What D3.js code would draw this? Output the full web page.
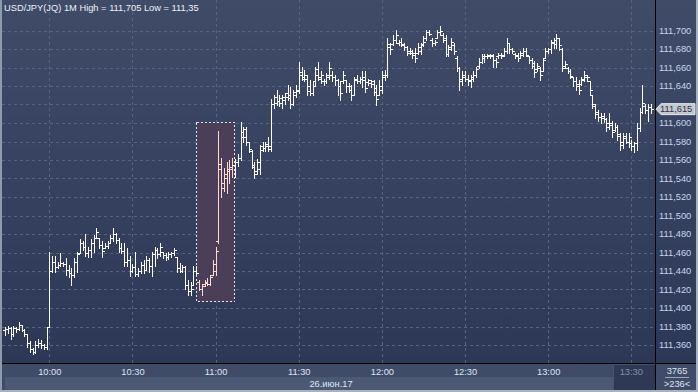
<!DOCTYPE html>
<html lang="ru">
<head>
<meta charset="UTF-8" />
<title>USD/JPY 1M</title>
<script src="https://d3js.org/d3.v7.min.js"></script>
<style>
  body { margin: 0; background: #2e3a56; }
  svg text { font-family: "Liberation Sans", Arial, sans-serif; font-size: 9.3px; }
  .bar { shape-rendering: crispEdges; }
</style>
</head>
<body>
<svg id="chart" width="698" height="392"></svg>
<script>
// ---- data (1 minute bars from 09:44) ----
const title = "USD/JPY(JQ) 1M High = 111,705 Low = 111,35";
const day = "2017-06-26";
const firstBar = "09:44";
const dateLabel = "26.июн.17";
const timeTicks = ["10:00", "10:30", "11:00", "11:30", "12:00", "12:30", "13:00", "13:30"];
const priceTicks = [111.36, 111.38, 111.40, 111.42, 111.44, 111.46, 111.48, 111.50, 111.52,
  111.54, 111.56, 111.58, 111.60, 111.62, 111.64, 111.66, 111.68, 111.70];
const lastPrice = 111.615;
const footerTop = "3765";
const footerBottom = ">236<";
// highlighted block (pink bars inside a dashed box)
const highlight = { from: "10:53", to: "11:06", top: 111.601, bottom: 111.408 };

const opens = [
  111.376,111.377,111.378,111.372,111.378,111.377,111.382,111.376,111.372,111.362,111.356,111.352,111.360,111.362,111.360,111.358,
  111.380,111.440,111.450,111.444,111.447,111.449,111.448,111.441,111.438,111.436,111.450,111.459,111.470,111.466,111.460,111.463,
  111.470,111.476,111.476,111.468,111.465,111.467,111.470,111.476,111.480,111.473,111.465,111.462,111.450,111.452,111.440,111.444,
  111.437,111.440,111.446,111.441,111.452,111.445,111.458,111.463,111.458,111.461,111.457,111.455,111.458,111.459,111.455,111.443,
  111.440,111.444,111.425,111.418,111.425,111.440,111.428,111.421,111.426,111.427,111.426,111.436,111.440,111.472,111.556,111.535,
  111.540,111.548,111.550,111.555,111.558,111.562,111.590,111.585,111.579,111.570,111.552,111.548,111.550,111.575,111.573,111.575,
  111.575,111.620,111.628,111.624,111.622,111.625,111.632,111.630,111.620,111.630,111.635,111.655,111.650,111.648,111.640,111.632,
  111.645,111.652,111.650,111.645,111.645,111.652,111.652,111.650,111.646,111.640,111.645,111.646,111.640,111.640,111.630,111.648,
  111.645,111.648,111.650,111.644,111.643,111.645,111.638,111.630,111.636,111.650,111.652,111.682,111.685,111.690,111.687,111.688,
  111.685,111.682,111.678,111.676,111.676,111.676,111.678,111.685,111.692,111.698,111.690,111.686,111.692,111.698,111.695,111.692,
  111.675,111.682,111.684,111.670,111.660,111.648,111.650,111.648,111.646,111.648,111.652,111.662,111.666,111.670,111.672,111.672,
  111.672,111.668,111.672,111.674,111.674,111.678,111.686,111.680,111.675,111.674,111.670,111.674,111.678,111.672,111.668,111.665,
  111.658,111.660,111.656,111.670,111.678,111.680,111.688,111.685,111.692,111.680,111.662,111.660,111.656,111.650,111.645,111.642,
  111.642,111.648,111.650,111.645,111.630,111.618,111.612,111.606,111.608,111.604,111.600,111.600,111.592,111.596,111.588,111.580,
  111.584,111.580,111.578,111.575,111.578,111.595,111.612,111.618,111.614,111.617
];
const highs = [
  111.380,111.381,111.379,111.381,111.380,111.385,111.382,111.377,111.372,111.364,111.357,111.364,111.366,111.365,111.361,111.380,
  111.461,111.456,111.456,111.450,111.460,111.450,111.454,111.447,111.443,111.454,111.461,111.475,111.472,111.480,111.466,111.475,
  111.479,111.486,111.476,111.472,111.470,111.472,111.479,111.486,111.481,111.476,111.470,111.470,111.465,111.456,111.448,111.461,
  111.443,111.450,111.452,111.456,111.454,111.461,111.466,111.465,111.470,111.461,111.460,111.461,111.461,111.465,111.455,111.449,
  111.446,111.445,111.430,111.428,111.445,111.445,111.430,111.426,111.430,111.432,111.436,111.452,111.466,111.591,111.562,111.551,
  111.558,111.560,111.562,111.561,111.566,111.601,111.596,111.596,111.580,111.571,111.558,111.561,111.576,111.580,111.580,111.585,
  111.626,111.630,111.636,111.630,111.630,111.632,111.641,111.639,111.636,111.641,111.666,111.661,111.657,111.652,111.646,111.645,
  111.661,111.666,111.656,111.648,111.654,111.666,111.656,111.652,111.648,111.645,111.656,111.646,111.643,111.641,111.650,111.652,
  111.650,111.656,111.656,111.648,111.646,111.646,111.641,111.646,111.656,111.657,111.692,111.686,111.695,111.701,111.690,111.692,
  111.686,111.683,111.681,111.679,111.681,111.686,111.686,111.694,111.701,111.701,111.692,111.690,111.701,111.705,111.697,111.695,
  111.684,111.692,111.686,111.672,111.661,111.656,111.656,111.652,111.652,111.656,111.661,111.670,111.675,111.675,111.675,111.675,
  111.675,111.670,111.676,111.676,111.681,111.692,111.687,111.681,111.676,111.676,111.678,111.681,111.681,111.672,111.670,111.667,
  111.665,111.661,111.670,111.681,111.681,111.690,111.692,111.696,111.692,111.681,111.667,111.661,111.658,111.650,111.650,111.647,
  111.650,111.656,111.652,111.645,111.630,111.620,111.614,111.611,111.611,111.605,111.611,111.602,111.600,111.598,111.589,111.589,
  111.589,111.589,111.582,111.580,111.600,111.616,111.641,111.620,111.620,111.620
];
const lows = [
  111.371,111.373,111.366,111.370,111.374,111.376,111.375,111.370,111.358,111.352,111.350,111.351,111.358,111.357,111.356,111.356,
  111.379,111.439,111.439,111.443,111.445,111.445,111.436,111.434,111.425,111.434,111.439,111.459,111.463,111.456,111.455,111.455,
  111.461,111.476,111.465,111.455,111.465,111.465,111.470,111.472,111.470,111.461,111.459,111.445,111.445,111.435,111.439,111.435,
  111.435,111.438,111.438,111.441,111.439,111.435,111.445,111.454,111.456,111.454,111.452,111.453,111.455,111.457,111.439,111.439,
  111.439,111.421,111.414,111.414,111.425,111.437,111.419,111.414,111.424,111.425,111.425,111.436,111.436,111.470,111.520,111.526,
  111.524,111.535,111.542,111.542,111.554,111.560,111.580,111.576,111.569,111.551,111.540,111.545,111.545,111.570,111.570,111.570,
  111.570,111.616,111.619,111.618,111.616,111.621,111.625,111.616,111.619,111.628,111.632,111.646,111.645,111.630,111.630,111.630,
  111.641,111.646,111.643,111.641,111.643,111.648,111.645,111.641,111.630,111.625,111.643,111.634,111.634,111.625,111.630,111.643,
  111.643,111.639,111.634,111.641,111.639,111.630,111.619,111.630,111.632,111.646,111.650,111.675,111.684,111.686,111.684,111.683,
  111.679,111.674,111.675,111.670,111.666,111.675,111.675,111.683,111.690,111.695,111.683,111.684,111.692,111.695,111.688,111.672,
  111.672,111.679,111.675,111.656,111.636,111.641,111.645,111.641,111.639,111.645,111.650,111.659,111.665,111.666,111.670,111.670,
  111.661,111.661,111.670,111.670,111.672,111.676,111.676,111.676,111.670,111.667,111.670,111.672,111.672,111.665,111.660,111.650,
  111.656,111.647,111.656,111.670,111.676,111.676,111.681,111.681,111.679,111.656,111.660,111.654,111.649,111.640,111.636,111.631,
  111.641,111.645,111.645,111.631,111.616,111.605,111.602,111.600,111.601,111.591,111.594,111.585,111.591,111.582,111.571,111.573,
  111.578,111.574,111.571,111.569,111.571,111.591,111.611,111.611,111.602,111.611
];
const closes = [
  111.377,111.378,111.372,111.378,111.377,111.382,111.376,111.372,111.362,111.356,111.352,111.360,111.362,111.360,111.358,111.380,
  111.440,111.450,111.444,111.447,111.449,111.448,111.441,111.438,111.436,111.450,111.458,111.470,111.466,111.460,111.463,111.470,
  111.476,111.482,111.468,111.462,111.467,111.470,111.476,111.480,111.473,111.465,111.462,111.450,111.452,111.440,111.444,111.437,
  111.440,111.446,111.441,111.452,111.445,111.458,111.463,111.458,111.466,111.457,111.455,111.458,111.459,111.463,111.443,111.440,
  111.444,111.425,111.418,111.420,111.440,111.438,111.421,111.424,111.428,111.426,111.434,111.448,111.462,111.550,111.530,111.545,
  111.550,111.552,111.555,111.558,111.562,111.585,111.593,111.579,111.572,111.555,111.545,111.558,111.571,111.573,111.577,111.572,
  111.620,111.622,111.624,111.627,111.628,111.628,111.627,111.620,111.633,111.636,111.652,111.648,111.652,111.635,111.632,111.640,
  111.658,111.648,111.652,111.645,111.650,111.660,111.650,111.646,111.640,111.632,111.652,111.640,111.636,111.630,111.646,111.645,
  111.648,111.646,111.638,111.646,111.642,111.634,111.626,111.640,111.652,111.652,111.685,111.680,111.690,111.695,111.688,111.684,
  111.682,111.676,111.678,111.673,111.670,111.682,111.684,111.688,111.698,111.696,111.686,111.688,111.698,111.700,111.690,111.675,
  111.680,111.688,111.678,111.660,111.645,111.652,111.648,111.645,111.650,111.652,111.658,111.666,111.672,111.672,111.674,111.673,
  111.668,111.666,111.674,111.672,111.678,111.686,111.680,111.678,111.672,111.670,111.676,111.678,111.674,111.668,111.662,111.655,
  111.662,111.652,111.668,111.678,111.680,111.686,111.690,111.692,111.684,111.660,111.664,111.656,111.651,111.645,111.640,111.636,
  111.646,111.652,111.650,111.636,111.620,111.610,111.606,111.605,111.604,111.596,111.598,111.590,111.596,111.586,111.576,111.586,
  111.580,111.585,111.575,111.578,111.595,111.612,111.622,111.614,111.617,111.615
];

// ---- layout ----
const W = 698, H = 392;
const plot = { left: 2, right: 655, top: 0, bottom: 363 };
const parse = d3.timeParse("%Y-%m-%d %H:%M");
const at = (hm) => parse(`${day} ${hm}`);
const fmtPrice = (v) => d3.format(".3f")(v).replace(".", ",");

const x = d3.scaleTime().domain([at("10:00"), at("13:30")]).range([49.3, 631.3]);
const y = d3.scaleLinear().domain([111.36, 111.70]).range([345, 30.5]);

const t0 = at(firstBar);
const bars = opens.map((o, i) => ({
  t: d3.timeMinute.offset(t0, i), o, h: highs[i], l: lows[i], c: closes[i]
}));

const svg = d3.select("#chart");
const defs = svg.append("defs");

const grad = defs.append("linearGradient").attr("id", "bg")
  .attr("x1", 0).attr("y1", 0).attr("x2", 0).attr("y2", 1);
grad.append("stop").attr("offset", "0%").attr("stop-color", "#3f4b67");
grad.append("stop").attr("offset", "100%").attr("stop-color", "#2c3856");

defs.append("clipPath").attr("id", "clip").append("rect")
  .attr("x", plot.left).attr("y", plot.top)
  .attr("width", plot.right - plot.left).attr("height", plot.bottom - plot.top);

// backgrounds
svg.append("rect").attr("width", W).attr("height", plot.bottom).attr("fill", "url(#bg)");
svg.append("rect").attr("x", 0).attr("y", plot.bottom).attr("width", W).attr("height", H - plot.bottom)
  .attr("fill", "#3f4b67");
svg.append("rect").attr("x", 5).attr("y", 377).attr("width", 608).attr("height", 13).attr("fill", "#4c5974");

// grid
const grid = svg.append("g").attr("stroke", "#56627e").attr("stroke-dasharray", "3,3")
  .attr("shape-rendering", "crispEdges");
grid.selectAll(".hg").data(priceTicks).join("line")
  .attr("x1", plot.left).attr("x2", plot.right)
  .attr("y1", (d) => Math.round(y(d)) + 0.5).attr("y2", (d) => Math.round(y(d)) + 0.5);
grid.selectAll(".vg").data(timeTicks).join("line")
  .attr("y1", plot.top).attr("y2", plot.bottom)
  .attr("x1", (d) => Math.round(x(at(d))) + 0.5).attr("x2", (d) => Math.round(x(at(d))) + 0.5);

// highlighted block
const hx0 = x(at(highlight.from)), hx1 = x(at(highlight.to)) + 2;
svg.append("rect")
  .attr("x", Math.round(hx0) + 0.5).attr("y", Math.round(y(highlight.top)) + 0.5)
  .attr("width", Math.round(hx1 - hx0))
  .attr("height", Math.round(y(highlight.bottom) - y(highlight.top)))
  .attr("fill", "#4b3e58").attr("stroke", "#e6e2ea").attr("stroke-dasharray", "2,2")
  .attr("shape-rendering", "crispEdges");

// OHLC bars
const inBlock = (d) => d.t > at(highlight.from) && d.t <= at(highlight.to);
const g = svg.append("g").attr("clip-path", "url(#clip)");
const bar = g.selectAll(".bar").data(bars).join("g").attr("class", "bar")
  .attr("fill", (d) => (inBlock(d) ? "#ffd9d2" : "#ffffff"));
const cx = (d) => Math.round(x(d.t));
bar.append("rect").attr("x", cx).attr("width", 1)
  .attr("y", (d) => Math.round(y(d.h)))
  .attr("height", (d) => Math.round(y(d.l)) - Math.round(y(d.h)) + 1);
bar.append("rect").attr("x", (d) => cx(d) - 2).attr("width", 2).attr("height", 1)
  .attr("y", (d) => Math.round(y(d.o)));
bar.append("rect").attr("x", (d) => cx(d) + 1).attr("width", 2).attr("height", 1)
  .attr("y", (d) => Math.round(y(d.c)));

// axes (the label hidden under the last-price marker is skipped)
const visibleTicks = priceTicks.filter((v) => Math.abs(y(v) - y(lastPrice)) > 7);
const yAxis = svg.append("g").attr("transform", `translate(${plot.right},0)`)
  .call(d3.axisRight(y).tickValues(visibleTicks).tickSize(0).tickPadding(4).tickFormat(fmtPrice));
yAxis.select(".domain").remove();
yAxis.selectAll("text").attr("fill", "#c9d5ee").style("font-size", "9.3px")
  .style("font-family", "'Liberation Sans', Arial, sans-serif");

const xAxis = svg.append("g").attr("transform", `translate(0,${plot.bottom})`)
  .call(d3.axisBottom(x).tickValues(timeTicks.slice(0, -1).map(at)).tickSize(0).tickPadding(5)
    .tickFormat(d3.timeFormat("%H:%M")));
xAxis.select(".domain").remove();
xAxis.selectAll("text").attr("fill", "#dfe6f2").style("font-size", "9.3px")
  .style("font-family", "'Liberation Sans', Arial, sans-serif");

// last time label box
svg.append("rect").attr("x", 613).attr("y", 364).attr("width", 42).attr("height", 26)
  .attr("fill", "#2e3a55").attr("stroke", "#46536e").attr("shape-rendering", "crispEdges");
svg.append("text").attr("x", x(at(timeTicks[timeTicks.length - 1]))).attr("y", 375)
  .attr("text-anchor", "middle").attr("fill", "#838ea4").text(timeTicks[timeTicks.length - 1]);

svg.append("text").attr("x", 331).attr("y", 387).attr("text-anchor", "middle")
  .attr("fill", "#dfe6f2").text(dateLabel);

// footer box
svg.append("text").attr("x", 677).attr("y", 374).attr("text-anchor", "middle")
  .attr("fill", "#dfe6f2").text(footerTop);
svg.append("line").attr("x1", 665).attr("x2", 689).attr("y1", 377.5).attr("y2", 377.5)
  .attr("stroke", "#9aa5b8");
svg.append("text").attr("x", 677).attr("y", 387).attr("text-anchor", "middle")
  .attr("fill", "#dfe6f2").text(footerBottom);

// separator lines and frame
svg.append("line").attr("x1", plot.right + 0.5).attr("x2", plot.right + 0.5).attr("y1", 0).attr("y2", H)
  .attr("stroke", "#000");
svg.append("line").attr("x1", 0).attr("x2", W).attr("y1", plot.bottom + 0.5).attr("y2", plot.bottom + 0.5)
  .attr("stroke", "#000");
svg.append("rect").attr("x", 0).attr("y", 0).attr("width", 2).attr("height", H).attr("fill", "#8e9aae");
svg.append("rect").attr("x", 0).attr("y", 390).attr("width", W).attr("height", 2).attr("fill", "#a9b1bf");
svg.append("rect").attr("x", 696).attr("y", 0).attr("width", 2).attr("height", H).attr("fill", "#a9b1bf");

// last price marker
const ly = y(lastPrice);
svg.append("path")
  .attr("d", `M${plot.right + 1},${ly} L${plot.right + 6},${ly - 5.5} L695,${ly - 5.5} L695,${ly + 5.5} L${plot.right + 6},${ly + 5.5} Z`)
  .attr("fill", "#c3c7cf").attr("stroke", "#e2e4e8");
svg.append("text").attr("x", plot.right + 5).attr("y", ly).attr("dy", "0.35em")
  .attr("fill", "#2a3242").text(fmtPrice(lastPrice));

// title
svg.append("text").attr("x", 4).attr("y", 11).attr("fill", "#eef1f6").text(title);
</script>
</body>
</html>
